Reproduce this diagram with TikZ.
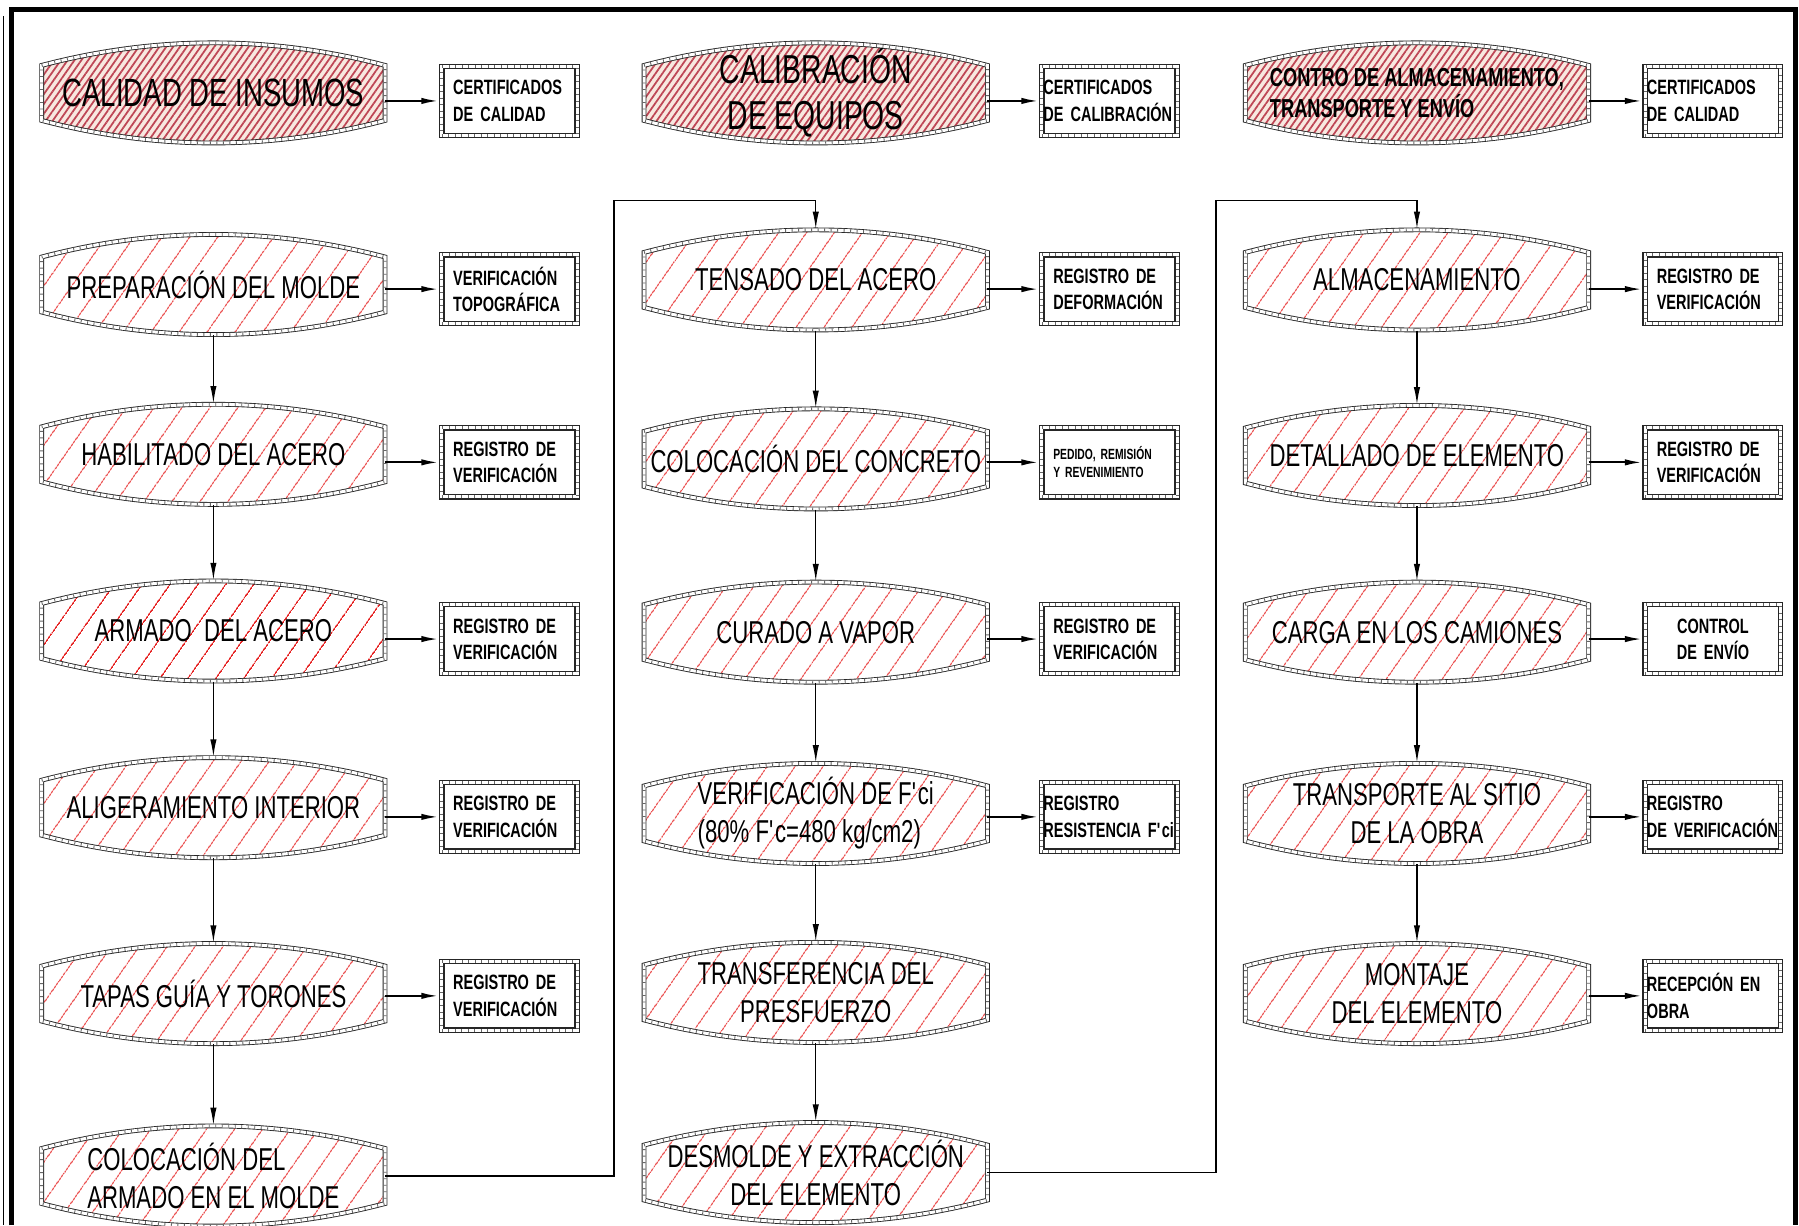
\documentclass[tikz,border=0pt]{standalone}
\usepackage{fontspec}
\setmainfont{Liberation Sans}[FakeStretch=0.7]
\usetikzlibrary{arrows.meta, calc, backgrounds, patterns.meta}

\definecolor{hatchred}{RGB}{230,40,40}
\definecolor{headhatch}{RGB}{190,70,85}
\definecolor{headbase}{RGB}{248,232,224}
\newcommand{\boxfont}{\bfseries\fontsize{5.9}{7.5}\selectfont\spaceskip=1.3pt\relax}

\begin{document}
\begin{tikzpicture}[
            x=0.011473cm, y=-0.011473cm,
            lensline/.style={draw=black!85, line width=1.35pt, postaction={draw=white, line width=0.85pt}, postaction={draw=black!60, line width=0.85pt, dash pattern=on 0.25pt off 1.6pt}},
            headfill/.style={preaction={fill=headbase}, pattern={Lines[angle=55, distance=1.6pt, line width=0.5pt]}, pattern color=headhatch},
            procfill/.style={pattern={Lines[angle=55, distance=6.5pt, line width=0.3pt]}, pattern color=hatchred},
            lens/.style={minimum width=3.42cm, minimum height=1.0cm, inner sep=0pt, align=center, font=\fontsize{9}{10.8}\selectfont},
            headlens/.style={lens, font=\fontsize{11.2}{13}\selectfont},
            regbox/.style={fill=white, lensline, line width=1.6pt, minimum width=1.354cm, minimum height=0.688cm, text width=1.124cm, inner xsep=0.115cm, inner ysep=0pt, align=left, font=\boxfont},
            regflush/.style={regbox, text width=1.32cm, inner xsep=0.017cm},
            arrow/.style={-{Latex[length=5pt, width=1.8pt]}, line width=0.6pt},
            link/.style={-{Latex[length=5pt, width=1.8pt]}, line width=0.4pt}
        ]
            \useasboundingbox (0,0) rectangle (1568,1068);

% Sheet frame
            \draw[line width=1.4pt] (10,1068) -- (10,8) -- (1565,8) -- (1565,1068);
            \draw[line width=0.4pt] (3,14) -- (3,1068);

% Quality control headers
            \node[headlens] (insumos) at (186,81) {CALIDAD DE INSUMOS};
            \node[headlens, font=\fontsize{11.5}{13}\selectfont] (calibracion) at (711,81) {CALIBRACIÓN\\DE EQUIPOS};
            \node[headlens, align=left, font=\bfseries\fontsize{7.4}{8.8}\selectfont] (control) at (1235,81) {CONTRO DE ALMACENAMIENTO,\\TRANSPORTE Y ENVÍO};

            \node[regbox] (certInsumos) at (444,88) {CERTIFICADOS\\DE CALIDAD};
            \node[regflush] (certCalib) at (967,88) {CERTIFICADOS\\DE CALIBRACIÓN};
            \node[regflush] (certControl) at (1493,88) {CERTIFICADOS\\DE CALIDAD};

% Molde and acero
            \node[lens] (molde) at (186,248) {PREPARACIÓN DEL MOLDE};
            \node[lens] (habilitado) at (186,396) {HABILITADO DEL ACERO};
            \node[lens] (armado) at (186,550) {ARMADO\ \ DEL ACERO};
            \node[lens] (aligeramiento) at (186,704) {ALIGERAMIENTO INTERIOR};
            \node[lens] (tapas) at (186,866) {TAPAS GUÍA Y TORONES};
            \node[lens, align=left] (colarmado) at (186,1025) {COLOCACIÓN DEL\\ARMADO EN EL MOLDE};

            \node[regbox] (topografica) at (444,252) {VERIFICACIÓN\\TOPOGRÁFICA};
            \node[regbox] (regHabilitado) at (444,403) {REGISTRO DE\\VERIFICACIÓN};
            \node[regbox] (regArmado) at (444,557) {REGISTRO DE\\VERIFICACIÓN};
            \node[regbox] (regAligeramiento) at (444,712) {REGISTRO DE\\VERIFICACIÓN};
            \node[regbox] (regTapas) at (444,868) {REGISTRO DE\\VERIFICACIÓN};

% Colado and curado
            \node[lens] (tensado) at (711,244) {TENSADO DEL ACERO};
            \node[lens] (concreto) at (711,400) {COLOCACIÓN DEL CONCRETO};
            \node[lens] (curado) at (711,551) {CURADO A VAPOR};
            \node[lens, align=left] (resistencia) at (711,709) {VERIFICACIÓN DE F\textquotesingle ci\\(80\% F\textquotesingle c=480 kg/cm2)};
            \node[lens] (transferencia) at (711,865) {TRANSFERENCIA DEL\\PRESFUERZO};
            \node[lens] (desmolde) at (711,1022) {DESMOLDE Y EXTRACCIÓN\\DEL ELEMENTO};

            \node[regbox] (deformacion) at (967,252) {REGISTRO DE\\DEFORMACIÓN};
            \node[regbox, font=\bfseries\fontsize{4.2}{5.2}\selectfont] (pedido) at (967,403) {PEDIDO, REMISIÓN\\Y REVENIMIENTO};
            \node[regbox] (regCurado) at (967,557) {REGISTRO DE\\VERIFICACIÓN};
            \node[regflush] (regResistencia) at (967,712) {REGISTRO\\RESISTENCIA F\textquotesingle ci};

% Almacenamiento and envio
            \node[lens] (almacenamiento) at (1235,244) {ALMACENAMIENTO};
            \node[lens] (detallado) at (1235,397) {DETALLADO DE ELEMENTO};
            \node[lens] (carga) at (1235,551) {CARGA EN LOS CAMIONES};
            \node[lens] (transporte) at (1235,709) {TRANSPORTE AL SITIO\\DE LA OBRA};
            \node[lens] (montaje) at (1235,866) {MONTAJE\\DEL ELEMENTO};

            \node[regbox] (regAlmacen) at (1493,252) {REGISTRO DE\\VERIFICACIÓN};
            \node[regbox] (regDetallado) at (1493,403) {REGISTRO DE\\VERIFICACIÓN};
            \node[regbox, align=center] (envio) at (1493,557) {CONTROL\\DE ENVÍO};
            \node[regflush] (regTransporte) at (1493,712) {REGISTRO\\DE VERIFICACIÓN};
            \node[regflush] (recepcion) at (1493,868) {RECEPCIÓN EN\\OBRA};

% Lens outlines behind the text
            \begin{scope}[on background layer]
            \foreach \n in {insumos, calibracion, control}
                \draw[headfill, lensline] ($(\n.west)+(0,-24)$) .. controls ($(\n.north)+(-50,-6)$) and ($(\n.north)+(50,-6)$) .. ($(\n.east)+(0,-24)$) -- ($(\n.east)+(0,24)$) .. controls ($(\n.south)+(50,6)$) and ($(\n.south)+(-50,6)$) .. ($(\n.west)+(0,24)$) -- cycle;
            \foreach \n in {molde, habilitado, armado, aligeramiento, tapas, colarmado, tensado, concreto, curado, resistencia, transferencia, desmolde, almacenamiento, detallado, carga, transporte, montaje}
                \draw[procfill, lensline] ($(\n.west)+(0,-24)$) .. controls ($(\n.north)+(-50,-6)$) and ($(\n.north)+(50,-6)$) .. ($(\n.east)+(0,-24)$) -- ($(\n.east)+(0,24)$) .. controls ($(\n.south)+(50,6)$) and ($(\n.south)+(-50,6)$) .. ($(\n.west)+(0,24)$) -- cycle;
            \end{scope}

% Records
            \draw[arrow] (insumos.east |- certInsumos) -- (certInsumos);
            \draw[arrow] (calibracion.east |- certCalib) -- (certCalib);
            \draw[arrow] (control.east |- certControl) -- (certControl);
            \draw[arrow] (molde.east |- topografica) -- (topografica);
            \draw[arrow] (habilitado.east |- regHabilitado) -- (regHabilitado);
            \draw[arrow] (armado.east |- regArmado) -- (regArmado);
            \draw[arrow] (aligeramiento.east |- regAligeramiento) -- (regAligeramiento);
            \draw[arrow] (tapas.east |- regTapas) -- (regTapas);
            \draw[arrow] (tensado.east |- deformacion) -- (deformacion);
            \draw[arrow] (concreto.east |- pedido) -- (pedido);
            \draw[arrow] (curado.east |- regCurado) -- (regCurado);
            \draw[arrow] (resistencia.east |- regResistencia) -- (regResistencia);
            \draw[arrow] (almacenamiento.east |- regAlmacen) -- (regAlmacen);
            \draw[arrow] (detallado.east |- regDetallado) -- (regDetallado);
            \draw[arrow] (carga.east |- envio) -- (envio);
            \draw[arrow] (transporte.east |- regTransporte) -- (regTransporte);
            \draw[arrow] (montaje.east |- recepcion) -- (recepcion);

% Process flow
            \draw[link] (molde) -- (habilitado);
            \draw[link] (habilitado) -- (armado);
            \draw[link] (armado) -- (aligeramiento);
            \draw[link] (aligeramiento) -- (tapas);
            \draw[link] (tapas) -- (colarmado);
            \draw[link] (tensado) -- (concreto);
            \draw[link] (concreto) -- (curado);
            \draw[link] (curado) -- (resistencia);
            \draw[link] (resistencia) -- (transferencia);
            \draw[link] (transferencia) -- (desmolde);
            \draw[link] (almacenamiento) -- (detallado);
            \draw[link] (detallado) -- (carga);
            \draw[link] (carga) -- (transporte);
            \draw[link] (transporte) -- (montaje);

            \coordinate (turnA) at (535,175);
            \coordinate (turnB) at (1060,175);
            \draw[link] (colarmado.east) -| (turnA) -| (tensado.north);
            \draw[link] (desmolde.east) -| (turnB) -| (almacenamiento.north);

        \end{tikzpicture}
\end{document}
